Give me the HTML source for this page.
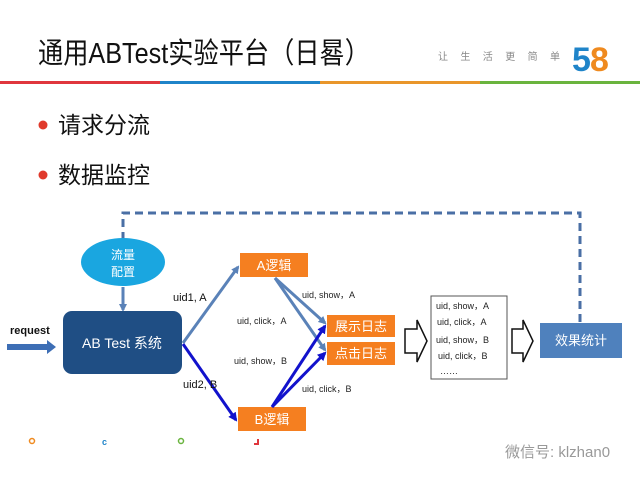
<!DOCTYPE html>
<html><head><meta charset="utf-8"><style>
body{margin:0;width:640px;height:480px;overflow:hidden;background:#fff;font-family:"Liberation Sans","Noto Sans CJK SC",sans-serif;}
</style></head><body>
<svg width="640" height="480" viewBox="0 0 640 480" xmlns="http://www.w3.org/2000/svg" font-family="Liberation Sans, Noto Sans CJK SC, sans-serif">
<defs>
<marker id="ms" markerWidth="8" markerHeight="8" refX="6" refY="4" orient="auto" markerUnits="userSpaceOnUse"><path d="M0,0 L8,4 L0,8 z" fill="#5a82b8"/></marker>
<marker id="mb" markerWidth="9" markerHeight="9" refX="7" refY="4.5" orient="auto" markerUnits="userSpaceOnUse"><path d="M0,0 L9,4.5 L0,9 z" fill="#1212cc"/></marker>
<marker id="md" markerWidth="8" markerHeight="8" refX="6" refY="4" orient="auto" markerUnits="userSpaceOnUse"><path d="M0,0 L8,4 L0,8 z" fill="#4a6fa5"/></marker>
</defs>
<text x="38" y="63" font-size="29" fill="#111" textLength="332" lengthAdjust="spacingAndGlyphs">通用ABTest实验平台（日晷）</text>
<text x="438" y="60" font-size="10" fill="#888" textLength="122">让 生 活 更 简 单</text>
<text x="572" y="71" font-size="34" font-weight="bold" fill="#1f84c9">5</text>
<text x="590" y="71" font-size="34" font-weight="bold" fill="#ef8a1f">8</text>
<rect x="0" y="81" width="160" height="3" fill="#e0363d"/>
<rect x="160" y="81" width="160" height="3" fill="#1f84c9"/>
<rect x="320" y="81" width="160" height="3" fill="#e9962a"/>
<rect x="480" y="81" width="160" height="3" fill="#6ab43e"/>
<circle cx="43" cy="125" r="4.5" fill="#e03a2c"/>
<circle cx="43" cy="175" r="4.5" fill="#e03a2c"/>
<text x="58" y="133" font-size="23" fill="#111">请求分流</text>
<text x="58" y="183" font-size="23" fill="#111">数据监控</text>
<path d="M580,322 V213 H123 V247" fill="none" stroke="#4a6fa5" stroke-width="3" stroke-dasharray="8,5" marker-end="url(#md)"/>
<ellipse cx="123" cy="262" rx="42" ry="24" fill="#1aa6e0"/>
<text x="123" y="259" font-size="12" fill="#fff" text-anchor="middle">流量</text>
<text x="123" y="276" font-size="12" fill="#fff" text-anchor="middle">配置</text>
<line x1="123" y1="287" x2="123" y2="310" stroke="#5a82b8" stroke-width="3" marker-end="url(#ms)"/>
<rect x="63" y="311" width="119" height="63" rx="9" fill="#1f4e84"/>
<text x="122" y="348" font-size="14" fill="#fff" text-anchor="middle">AB Test 系统</text>
<text x="10" y="334" font-size="11" font-weight="bold" fill="#111">request</text>
<path d="M7,344 H47 V340 L56,347 L47,354 V350 H7 Z" fill="#3d6eb5"/>
<line x1="183" y1="343" x2="238" y2="267" stroke="#5a82b8" stroke-width="3" marker-end="url(#ms)"/>
<line x1="183" y1="344" x2="236" y2="420" stroke="#1212cc" stroke-width="3" marker-end="url(#mb)"/>
<text x="173" y="301" font-size="11" fill="#111">uid1, A</text>
<text x="183" y="388" font-size="11" fill="#111">uid2, B</text>
<rect x="240" y="253" width="68" height="24" fill="#f57f20"/>
<text x="274" y="270" font-size="13" fill="#fff" text-anchor="middle">A逻辑</text>
<rect x="238" y="407" width="68" height="24" fill="#f57f20"/>
<text x="272" y="424" font-size="13" fill="#fff" text-anchor="middle">B逻辑</text>
<line x1="275" y1="278" x2="325" y2="323" stroke="#5a82b8" stroke-width="3" marker-end="url(#ms)"/>
<line x1="275" y1="278" x2="325" y2="350" stroke="#5a82b8" stroke-width="3" marker-end="url(#ms)"/>
<line x1="272" y1="407" x2="325" y2="326" stroke="#1212cc" stroke-width="3" marker-end="url(#mb)"/>
<line x1="272" y1="407" x2="325" y2="353" stroke="#1212cc" stroke-width="3" marker-end="url(#mb)"/>
<g font-size="9" fill="#222">
<text x="302" y="298">uid, show，A</text>
<text x="237" y="324">uid, click，A</text>
<text x="234" y="364">uid, show，B</text>
<text x="302" y="392">uid, click，B</text>
</g>
<rect x="327" y="315" width="68" height="22" fill="#f57f20"/>
<text x="361" y="331" font-size="13" fill="#fff" text-anchor="middle">展示日志</text>
<rect x="327" y="342" width="68" height="23" fill="#f57f20"/>
<text x="361" y="358" font-size="13" fill="#fff" text-anchor="middle">点击日志</text>
<path d="M405,329 H417 V320 L427,341 L417,362 V353 H405 Z" fill="#fff" stroke="#111" stroke-width="1.5"/>
<rect x="431" y="296" width="76" height="83" fill="#fff" stroke="#555" stroke-width="1"/>
<g font-size="9" fill="#222">
<text x="436" y="309">uid, show，A</text>
<text x="437" y="325">uid, click，A</text>
<text x="436" y="343">uid, show，B</text>
<text x="438" y="359">uid, click，B</text>
<text x="440" y="374">……</text>
</g>
<path d="M512,329 H523 V320 L533,341 L523,362 V353 H512 Z" fill="#fff" stroke="#111" stroke-width="1.5"/>
<rect x="540" y="323" width="82" height="35" fill="#4f81bd"/>
<text x="581" y="345" font-size="13" fill="#fff" text-anchor="middle">效果统计</text>
<circle cx="32" cy="441" r="2.5" fill="none" stroke="#ef8a1f" stroke-width="1.5"/>
<text x="102" y="445" font-size="9" font-weight="bold" fill="#1f84c9">c</text>
<circle cx="181" cy="441" r="2.5" fill="none" stroke="#6ab43e" stroke-width="1.5"/>
<path d="M254,444 H258 V439" fill="none" stroke="#e0363d" stroke-width="2"/>
<text x="505" y="457" font-size="15" fill="#999">微信号: klzhan0</text>
</svg>
</body></html>
